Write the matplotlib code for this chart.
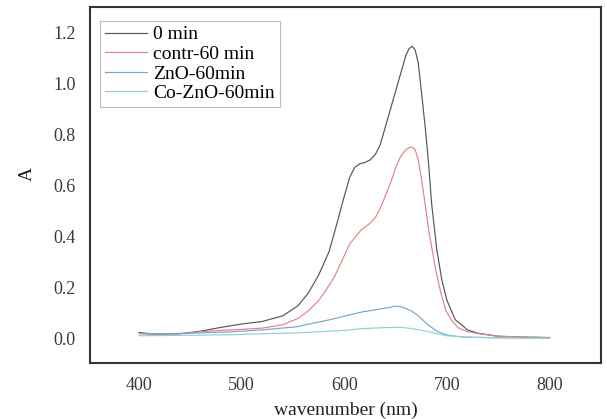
import matplotlib
matplotlib.use("Agg")
import matplotlib.pyplot as plt

# Absorbance spectra (wavelength in nm, absorbance A)
wl_0min = [400, 410, 420, 440, 460, 480, 500, 520, 540, 555, 565, 575, 585, 592,
           598, 605, 610, 615, 620, 625, 630, 635, 640, 645, 650, 655, 660, 663,
           666, 669, 672, 675, 679, 682, 685, 690, 695, 700, 708, 720, 730, 750,
           780, 800]
a_0min = [0.025, 0.020, 0.017, 0.020, 0.030, 0.045, 0.058, 0.068, 0.090, 0.130,
          0.180, 0.250, 0.340, 0.440, 0.530, 0.630, 0.670, 0.685, 0.690, 0.700,
          0.720, 0.760, 0.830, 0.900, 0.970, 1.040, 1.110, 1.135, 1.145, 1.130,
          1.080, 0.970, 0.820, 0.690, 0.530, 0.350, 0.230, 0.150, 0.075, 0.035,
          0.022, 0.010, 0.006, 0.005]

wl_contr = [400, 420, 440, 460, 480, 500, 520, 540, 555, 565, 575, 582, 590, 597,
            605, 611, 616, 621, 626, 631, 636, 640, 645, 650, 655, 660, 663, 666,
            669, 672, 675, 679, 682, 689, 694, 699, 705, 711, 720, 731, 750, 800]
a_contr = [0.020, 0.015, 0.020, 0.028, 0.033, 0.037, 0.042, 0.055, 0.080, 0.110,
           0.150, 0.190, 0.240, 0.300, 0.370, 0.400, 0.425, 0.440, 0.455, 0.480,
           0.520, 0.560, 0.610, 0.670, 0.715, 0.740, 0.748, 0.750, 0.740, 0.700,
           0.630, 0.520, 0.430, 0.270, 0.180, 0.110, 0.070, 0.043, 0.028, 0.020,
           0.010, 0.005]

wl_zno = [400, 420, 450, 488, 520, 553, 585, 617, 640, 650, 656, 665, 672, 680,
          690, 700, 715, 750, 800]
a_zno = [0.022, 0.020, 0.022, 0.027, 0.035, 0.047, 0.074, 0.105, 0.120, 0.128,
         0.125, 0.110, 0.090, 0.060, 0.030, 0.015, 0.007, 0.004, 0.003]

wl_cozno = [400, 450, 488, 520, 553, 600, 617, 640, 655, 666, 680, 690, 700, 720,
            760, 800]
a_cozno = [0.012, 0.014, 0.016, 0.020, 0.023, 0.033, 0.040, 0.044, 0.045, 0.040,
           0.030, 0.020, 0.012, 0.006, 0.004, 0.003]

labels = ["0 min", "contr-60 min", "ZnO-60min", "Co-ZnO-60min"]
colors = ["#555555", "#e08585", "#7aa5cf", "#8fd0d0"]

plt.rcParams["font.family"] = ["Liberation Serif", "DejaVu Serif"]

fig = plt.figure(figsize=(6.07, 4.19), dpi=100)
ax = fig.add_axes([0.148, 0.134, 0.842, 0.849])

series = [(wl_0min, a_0min), (wl_contr, a_contr), (wl_zno, a_zno), (wl_cozno, a_cozno)]
for (x, y), lab, c in zip(series, labels, colors):
    ax.plot(x, y, color=c, lw=0.85, label=lab)

ax.set_xlim(352, 850)
ax.set_ylim(-0.094, 1.298)
ax.set_xticks([400, 500, 600, 700, 800])
ax.set_yticks([0.0, 0.2, 0.4, 0.6, 0.8, 1.0, 1.2])
ax.set_yticklabels(["0.0", "0.2", "0.4", "0.6", "0.8", "1.0", "1.2"])
ax.tick_params(axis="both", length=0, labelsize=13, colors="#3a3a3a", pad=10)
for s in ax.spines.values():
    s.set_color("#333333")
    s.set_linewidth(1.5)

ax.set_xlabel("wavenumber (nm)", fontsize=14, color="#222222")
ax.set_ylabel("A", fontsize=14, color="#222222")
ax.xaxis.set_label_coords(0.5, -0.11)
ax.yaxis.set_label_coords(-0.105, 0.53)

leg = ax.legend(loc="upper left", bbox_to_anchor=(0.0196, 0.961), fontsize=14,
                frameon=True, fancybox=False, handlelength=2.2, handletextpad=0.3,
                labelspacing=0.1, borderpad=0.25, borderaxespad=0)
leg.get_frame().set_edgecolor("#aaaaaa")
leg.get_frame().set_linewidth(0.8)

fig.savefig("out.png", dpi=100)
